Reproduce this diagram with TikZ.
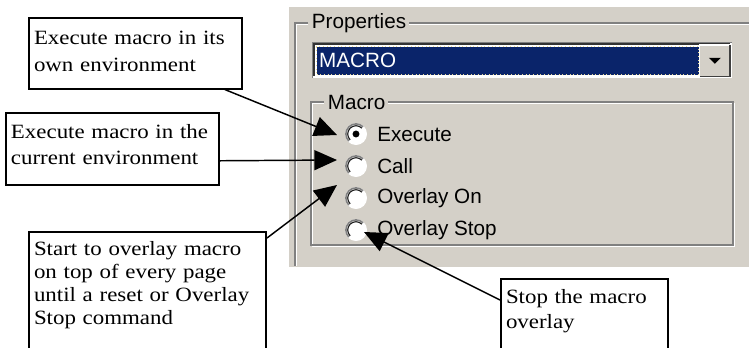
\documentclass[tikz,border=0pt]{standalone}
\usepackage{fontspec}
\setmainfont{Liberation Serif}
\newfontfamily\callfont[FakeStretch=1.13]{Liberation Serif}
\newfontfamily\uifont{Liberation Sans}
\usepackage{tikz}
\usetikzlibrary{positioning,calc,arrows.meta}
\definecolor{panelgray}{HTML}{D4D0C8}
\definecolor{selblue}{HTML}{0A246A}
\definecolor{edgegray}{HTML}{808080}
\definecolor{focusyellow}{HTML}{E8D890}
\tikzset{callnode/.style={shape=rectangle, draw=black, fill=white, line width=1.5pt, anchor=north west, align=left, inner xsep=3.75pt, inner ysep=0pt, font=\callfont\fontsize{15.2}{20.25}\selectfont}}
\tikzset{uilabel/.style={shape=rectangle, fill=panelgray, inner xsep=2pt, inner ysep=1pt, anchor=west, font=\uifont\fontsize{15.5}{18}\selectfont}}
\tikzset{radnode/.style={shape=circle, fill=white, minimum size=16.5pt, inner sep=0pt, outer sep=0pt}}
\tikzset{radtext/.style={inner sep=0pt, font=\uifont\fontsize{15.5}{18}\selectfont}}
\tikzset{combonode/.style={shape=rectangle, fill=selblue, text=white, draw=focusyellow, dotted, line width=0.75pt, anchor=north west, align=left, text width=282.5pt, inner xsep=2pt, minimum height=21pt, font=\uifont\fontsize{15.5}{18}\selectfont}}
\tikzset{btnnode/.style={shape=rectangle, fill=panelgray, anchor=north west, minimum width=22.5pt, minimum height=23.25pt, inner sep=0pt}}
\tikzset{callarrow/.style={line width=1.1pt, -{Triangle[length=17pt,width=15pt]}}}

\begin{document}
\begin{tikzpicture}[x=0.75pt,y=-0.75pt]
\useasboundingbox (0,0) rectangle (749,347);
\clip (0,0) rectangle (749,347);
%Panel
\fill[panelgray] (289,7) rectangle (760,267);
\draw[white, line width=0.9pt] (308,24.5) -- (296.5,24.5) -- (296.5,266);
\draw[edgegray, line width=0.9pt] (308,23) -- (295,23) -- (295,266);
\draw[white, line width=0.9pt] (406,24.5) -- (760,24.5);
\draw[edgegray, line width=0.9pt] (406,23) -- (760,23);
\node[uilabel] (props) at (309,23) {Properties};
%Dropdown
\fill[white] (312,42) rectangle (732,78);
\draw[edgegray, line width=0.9pt] (312.5,77.5) -- (312.5,42.5) -- (731.5,42.5);
\draw[black!80, line width=0.9pt] (314,76) -- (314,44) -- (730,44);
\node[combonode] (combo) at (316,46) {MACRO};
\node[btnnode] (drop) at (699.5,45) {};
\draw[white, line width=0.9pt] (drop.south west) -- (drop.north west) -- (drop.north east);
\draw[black!75, line width=0.9pt] (drop.north east) -- (drop.south east) -- (drop.south west);
\fill[black] ($(drop.center)+(-6,-3)$) -- ++(12,0) -- ++(-6,6) -- cycle;
%Macro group
\draw[white, line width=0.9pt] (324,103.5) -- (312.5,103.5) -- (312.5,246.5) -- (734.5,246.5) -- (734.5,103.5) -- (388,103.5);
\draw[edgegray, line width=0.9pt] (324,102) -- (311,102) -- (311,245) -- (733,245) -- (733,102) -- (388,102);
\node[uilabel] (macro) at (325,102) {Macro};
%Radio buttons
\node[radnode] (rExec) at (356,134) {};
\node[radnode, below=7.5pt of rExec] (rCall) {};
\node[radnode, below=7.5pt of rCall] (rOn) {};
\node[radnode, below=7.5pt of rOn] (rStop) {};
\foreach \r in {rExec,rCall,rOn,rStop}{
  \draw[edgegray, line width=1.2pt] ($(\r.center)+(45:7.6pt)$) arc[start angle=45, end angle=225, radius=7.6pt];
  \draw[black!85, line width=0.9pt] ($(\r.center)+(45:6.2pt)$) arc[start angle=45, end angle=225, radius=6.2pt];
}
\fill[black] (rExec.center) circle[radius=2.6pt];
\node[radtext, right=7.5pt of rExec] (tExec) {Execute};
\node[radtext, right=7.5pt of rCall] (tCall) {Call};
\node[radtext, right=7.5pt of rOn] (tOn) {Overlay On};
\node[radtext, right=7.5pt of rStop] (tStop) {Overlay Stop};
%Callouts
\node[callnode, text width=152.25pt] (own) at (28,17)
  {\rule{0pt}{19.5pt}Execute macro in its\\own environment\rule[-13.2pt]{0pt}{13.2pt}};
\node[callnode, text width=152.25pt, font=\callfont\fontsize{15.2}{19.5}\selectfont] (cur) at (5,112)
  {\rule{0pt}{18.75pt}Execute macro in the\\current environment\rule[-15.4pt]{0pt}{15.4pt}};
\node[callnode, text width=170.25pt, font=\callfont\fontsize{15.2}{17.25}\selectfont] (ovl) at (28,231)
  {\rule{0pt}{17.25pt}Start to overlay macro\\on top of every page\\until a reset or Overlay\\Stop command\rule[-25pt]{0pt}{25pt}};
\node[callnode, text width=117.75pt, font=\callfont\fontsize{15.2}{18.75}\selectfont] (stp) at (500,278)
  {\rule{0pt}{18pt}Stop the macro\\overlay\rule[-25pt]{0pt}{25pt}};
%Lines
\draw[callarrow] ($(own.south east)+(-18,0)$) to ($(rExec.west)+(-8,1)$);
\draw[callarrow] ($(cur.east)+(0,12)$) to ($(rCall.west)+(-8,-6)$);
\draw[callarrow] ($(ovl.north east)+(0,7)$) to ($(rOn.west)+(-8,-13)$);
\draw[callarrow] ($(stp.north west)+(0,22)$) to ($(rStop.center)+(8,2)$);
\end{tikzpicture}
\end{document}
